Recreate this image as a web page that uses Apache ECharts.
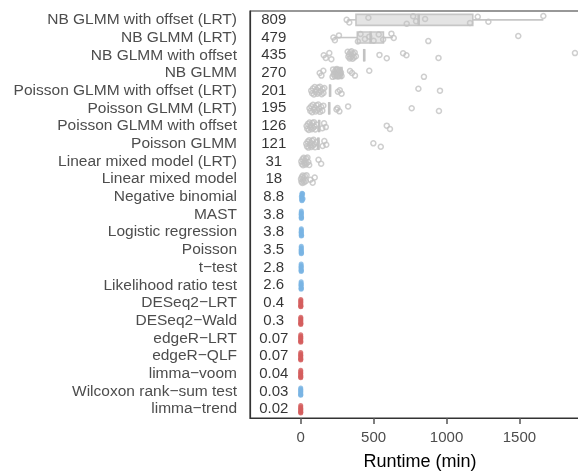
<!DOCTYPE html>
<html>
<head>
<meta charset="utf-8">
<script src="https://cdn.jsdelivr.net/npm/echarts@6/dist/echarts.min.js"></script>
<style>
  html, body { margin: 0; padding: 0; background: #fff; overflow: hidden; }
  #chart { width: 578px; height: 472px; }
</style>
</head>
<body>
<div id="chart"></div>
<script>
// methods, top to bottom
const CATEGORIES = [
  'NB GLMM with offset (LRT)', 'NB GLMM (LRT)', 'NB GLMM with offset', 'NB GLMM',
  'Poisson GLMM with offset (LRT)', 'Poisson GLMM (LRT)', 'Poisson GLMM with offset', 'Poisson GLMM',
  'Linear mixed model (LRT)', 'Linear mixed model', 'Negative binomial', 'MAST',
  'Logistic regression', 'Poisson', 't\u2212test', 'Likelihood ratio test',
  'DESeq2\u2212LRT', 'DESeq2\u2212Wald', 'edgeR\u2212LRT', 'edgeR\u2212QLF',
  'limma\u2212voom', 'Wilcoxon rank\u2212sum test', 'limma\u2212trend'
]
const MEDIAN_LABELS = ['809', '479', '435', '270', '201', '195', '126', '121', '31', '18', '8.8',
  '3.8', '3.8', '3.5', '2.8', '2.6', '0.4', '0.3', '0.07', '0.07', '0.04', '0.03', '0.02']
// gray = mixed models, blue / red = others
const GROUPS = ['gray', 'gray', 'gray', 'gray', 'gray', 'gray', 'gray', 'gray', 'gray', 'gray',
  'blue', 'blue', 'blue', 'blue', 'blue', 'blue', 'red', 'red', 'red', 'red', 'red', 'blue', 'red']

// [lower whisker, Q1, median, Q3, upper whisker]
const BOX_STATS = [
  [320, 379, 809, 1180, 1664],
  [228, 388, 479, 567, 632],
  [435, 433, 435, 437, 435],
  [216, 232, 270, 283, 290],
  [201, 199, 201, 203, 201],
  [195, 193, 195, 197, 195],
  [126, 124, 126, 128, 126],
  [121, 119, 121, 123, 121],
  null, null
]

// runtimes per method (min)
const RUNTIMES = [
  [315, 333, 464, 727, 771, 791, 853, 1161, 1214, 1287, 1664],
  [224, 234, 262, 392, 410, 440, 470, 500, 535, 565, 622, 638, 875, 1492],
  [158, 172, 196, 210, 322, 327, 332, 336, 340, 344, 348, 352, 356, 360, 365, 370, 378, 540, 590, 702, 725, 945, 1881],
  [130, 142, 155, 218, 222, 226, 231, 235, 240, 244, 248, 252, 256, 260, 264, 268, 272, 276, 280, 338, 352, 372, 470, 845],
  [72, 78, 84, 90, 96, 102, 108, 114, 120, 126, 132, 138, 144, 150, 156, 162, 255, 268, 280, 807, 955],
  [60, 66, 72, 78, 84, 90, 96, 102, 108, 114, 120, 126, 132, 140, 148, 155, 245, 252, 265, 325, 761, 948],
  [40, 45, 50, 55, 60, 65, 70, 75, 80, 85, 90, 95, 100, 108, 148, 160, 172, 590, 612],
  [38, 43, 48, 53, 58, 63, 68, 73, 78, 83, 88, 93, 98, 108, 150, 162, 175, 498, 549],
  [4, 8, 12, 16, 20, 24, 28, 32, 36, 40, 46, 52, 58, 122, 140],
  [2, 5, 8, 11, 14, 17, 20, 24, 28, 35, 40, 66, 82, 96],
  [4, 6, 7, 8, 8.8, 9.5, 10, 11, 13, 16],
  [2, 3, 3.4, 3.8, 4, 4.5, 5, 6],
  [2.2, 3, 3.5, 3.8, 4.1, 4.6, 5.2, 6.5],
  [1.8, 2.6, 3.1, 3.5, 3.8, 4.2, 4.8, 5.5],
  [1.5, 2, 2.5, 2.8, 3, 3.4, 3.9, 4.4],
  [1.4, 1.9, 2.3, 2.6, 2.9, 3.2, 3.6, 4.1],
  [0.25, 0.3, 0.35, 0.4, 0.42, 0.46, 0.5, 0.6],
  [0.2, 0.24, 0.28, 0.3, 0.33, 0.36, 0.4, 0.45],
  [0.05, 0.06, 0.065, 0.07, 0.075, 0.08, 0.09, 0.1],
  [0.05, 0.06, 0.065, 0.07, 0.075, 0.08, 0.09, 0.1],
  [0.03, 0.035, 0.038, 0.04, 0.042, 0.045, 0.05, 0.06],
  [0.02, 0.025, 0.028, 0.03, 0.032, 0.035, 0.04, 0.05],
  [0.01, 0.015, 0.018, 0.02, 0.022, 0.025, 0.03, 0.04]
]
const X_TICKS = [0, 500, 1000, 1500]

// fixed vertical jitter (in rows)
const JITTER = [0, 0.15, -0.12, 0.22, -0.2, 0.08, -0.05, 0.18, -0.17, 0.11, -0.22, 0.03, 0.2, -0.09, 0.13, -0.15, 0.06, -0.02, 0.17, -0.11]

const COLORS = { gray: '#c2c2c2', blue: '#79b4e3', red: '#d55e5e' }

const pts = { gray: [], blue: [], red: [] }
RUNTIMES.forEach((vals, row) => {
  vals.forEach((v, k) => {
    pts[GROUPS[row]].push([v, row + JITTER[k % JITTER.length]])
  })
})

const boxData = []
BOX_STATS.forEach((b, row) => {
  if (b) boxData.push([b[0], b[1], b[2], b[3], b[4], row])
})

const chart = echarts.init(document.getElementById('chart'))
chart.setOption({
  animation: false,
  textStyle: { fontFamily: 'Liberation Sans, Arial, sans-serif' },
  grid: {
    left: 250, top: 11, width: 340, bottom: 54,
    outerBoundsMode: 'none',
    containLabel: false,
    show: true, borderColor: '#333', borderWidth: 1.2, backgroundColor: 'transparent'
  },
  xAxis: {
    type: 'value',
    min: -348,
    max: 1984,
    splitLine: { show: false },
    axisLine: { onZero: false, lineStyle: { color: '#333', width: 1.2 } },
    axisTick: { customValues: X_TICKS, length: 6, lineStyle: { color: '#555', width: 1.5 } },
    axisLabel: { customValues: X_TICKS, fontSize: 15, color: '#4d4d4d', margin: 12, formatter: v => String(v) },
    name: 'Runtime (min)',
    nameLocation: 'middle',
    nameGap: 35,
    nameTextStyle: { fontSize: 18, color: '#000' }
  },
  yAxis: [
    {
      type: 'category',
      data: CATEGORIES,
      inverse: true,
      axisLine: { onZero: false, lineStyle: { color: '#333', width: 1.2 } },
      axisTick: { length: 6, alignWithLabel: true, lineStyle: { color: '#555', width: 1.5 } },
      axisLabel: { fontSize: 15.5, color: '#4d4d4d', margin: 13, interval: 0 }
    },
    {
      type: 'value',
      show: false,
      inverse: true,
      min: -0.5,
      max: CATEGORIES.length - 0.5
    }
  ],
  series: [
    {
      type: 'custom',
      yAxisIndex: 1,
      encode: { x: [0, 1, 2, 3, 4], y: 5 },
      data: boxData,
      z: 1,
      renderItem: (params, api) => {
        const row = api.value(5)
        const y = api.coord([0, row])[1]
        const x = [0, 1, 2, 3, 4].map(d => api.coord([api.value(d), row])[0])
        const h = 11
        const stroke = { stroke: '#c6c6c6', lineWidth: 1.6 }
        return {
          type: 'group',
          children: [
            { type: 'line', shape: { x1: x[0], y1: y, x2: x[1], y2: y }, style: stroke },
            { type: 'line', shape: { x1: x[3], y1: y, x2: x[4], y2: y }, style: stroke },
            { type: 'rect', shape: { x: x[1], y: y - h / 2, width: x[3] - x[1], height: h },
              style: { fill: '#e4e4e4', stroke: '#c6c6c6', lineWidth: 1.6 } },
            { type: 'line', shape: { x1: x[2], y1: y - h / 2 - 0.5, x2: x[2], y2: y + h / 2 + 0.5 },
              style: { stroke: '#c2c2c2', lineWidth: 2.5 } }
          ]
        }
      }
    },
    {
      type: 'scatter',
      yAxisIndex: 1,
      data: pts.gray,
      symbolSize: 5,
      z: 2,
      itemStyle: { color: 'rgba(255,255,255,0)', borderColor: COLORS.gray, borderWidth: 1.5 }
    },
    {
      type: 'scatter',
      yAxisIndex: 1,
      data: pts.blue,
      symbolSize: 5,
      z: 2,
      itemStyle: { color: COLORS.blue }
    },
    {
      type: 'scatter',
      yAxisIndex: 1,
      data: pts.red,
      symbolSize: 5,
      z: 2,
      itemStyle: { color: COLORS.red }
    },
    {
      type: 'scatter',
      yAxisIndex: 1,
      data: MEDIAN_LABELS.map((t, i) => [-185, i]),
      symbolSize: 0,
      z: 3,
      label: {
        show: true,
        position: 'inside',
        fontSize: 15,
        color: '#000',
        formatter: p => MEDIAN_LABELS[p.dataIndex]
      }
    }
  ]
})
</script>
</body>
</html>
